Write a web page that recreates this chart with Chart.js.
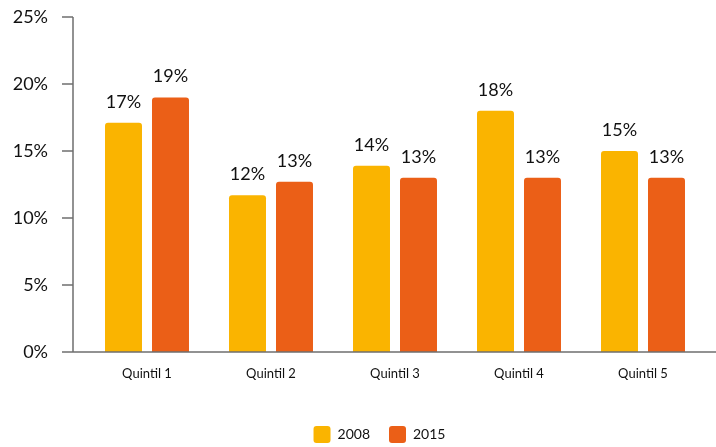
<!DOCTYPE html>
<html>
<head>
<meta charset="utf-8">
<script src="https://cdn.jsdelivr.net/npm/chart.js@4.4.1/dist/chart.umd.min.js"></script>
<style>
  html, body { margin: 0; padding: 0; background: #fff; }
  #wrap { width: 716px; height: 447px; }
</style>
</head>
<body>
<div id="wrap"><canvas id="chart"></canvas></div>
<script>
// ---- Data ----
const categories = ['Quintil 1', 'Quintil 2', 'Quintil 3', 'Quintil 4', 'Quintil 5'];
const seriesNames = ['2008', '2015'];
const share2008 = [17.1, 11.7, 13.9, 18.0, 15.0];
const share2015 = [19.0, 12.7, 13.0, 13.0, 13.0];
const yTicks = [0, 5, 10, 15, 20, 25];

const FONT = 'Lato';
const AXIS_GREY = '#6f6f6f';

// ---- Axis frame: L-shaped axis extending a bit past the bars, with left tick marks ----
const axisFrame = {
  id: 'axisFrame',
  afterDatasetsDraw(chart) {
    const { ctx, chartArea, scales } = chart;
    const x0 = chartArea.left - 12;
    ctx.save();
    ctx.strokeStyle = AXIS_GREY;
    ctx.lineWidth = 1.5;
    ctx.beginPath();
    ctx.moveTo(x0, scales.y.getPixelForValue(yTicks[yTicks.length - 1]));
    ctx.lineTo(x0, chartArea.bottom);
    ctx.lineTo(chart.width, chartArea.bottom);
    yTicks.forEach(v => {
      const y = Math.round(scales.y.getPixelForValue(v));
      ctx.moveTo(x0 - 11, y);
      ctx.lineTo(x0, y);
    });
    ctx.stroke();
    ctx.restore();
  }
};

// ---- Value labels above each bar ----
const barValues = {
  id: 'barValues',
  afterDatasetsDraw(chart) {
    const { ctx } = chart;
    ctx.save();
    ctx.font = '18px ' + FONT;
    ctx.fillStyle = '#111';
    ctx.textAlign = 'center';
    ctx.textBaseline = 'bottom';
    chart.data.datasets.forEach((ds, i) => {
      chart.getDatasetMeta(i).data.forEach((bar, j) => {
        ctx.fillText(Math.round(ds.data[j]) + '%', bar.x, bar.y - 12);
      });
    });
    ctx.restore();
  }
};

// ---- Nudge the legend so it centres under the whole canvas ----
const legendShift = {
  id: 'legendShift',
  afterLayout(chart) {
    const lg = chart.legend;
    if (!lg) return;
    lg.left += 27;
    lg.right += 27;
  }
};

new Chart(document.getElementById('chart'), {
  type: 'bar',
  data: {
    labels: categories,
    datasets: [
      {
        label: seriesNames[0],
        data: share2008,
        backgroundColor: '#fab400',
        borderRadius: { topLeft: 3, topRight: 3 },
        borderSkipped: 'bottom'
      },
      {
        label: seriesNames[1],
        data: share2015,
        backgroundColor: '#eb5f17',
        borderRadius: { topLeft: 3, topRight: 3 },
        borderSkipped: 'bottom'
      }
    ]
  },
  options: {
    responsive: true,
    maintainAspectRatio: false,
    animation: false,
    categoryPercentage: 0.758,
    barPercentage: 0.787,
    layout: { padding: { top: 17, right: 11, bottom: -6, left: 0 } },
    plugins: {
      legend: {
        position: 'bottom',
        labels: {
          color: '#111',
          font: { family: FONT, size: 14 },
          boxWidth: 17,
          boxHeight: 17,
          useBorderRadius: true,
          borderRadius: 3,
          padding: 19
        }
      },
      tooltip: { enabled: false }
    },
    scales: {
      x: {
        afterFit(scale) { scale.height = 55; },
        grid: { display: false, drawTicks: false },
        border: { display: false },
        ticks: { color: '#111', font: { family: FONT, size: 13 }, padding: 14 }
      },
      y: {
        min: 0,
        max: 25,
        afterFit(scale) {
          scale.width = 85;
          scale.paddingTop = 0;
          scale.paddingBottom = 0;
        },
        afterBuildTicks(scale) { scale.ticks = yTicks.map(v => ({ value: v })); },
        grid: { display: false, drawTicks: false },
        border: { display: false },
        ticks: {
          color: '#111',
          font: { family: FONT, size: 18 },
          padding: 37,
          callback: v => v + '%'
        }
      }
    }
  },
  plugins: [axisFrame, barValues, legendShift]
});
</script>
</body>
</html>
